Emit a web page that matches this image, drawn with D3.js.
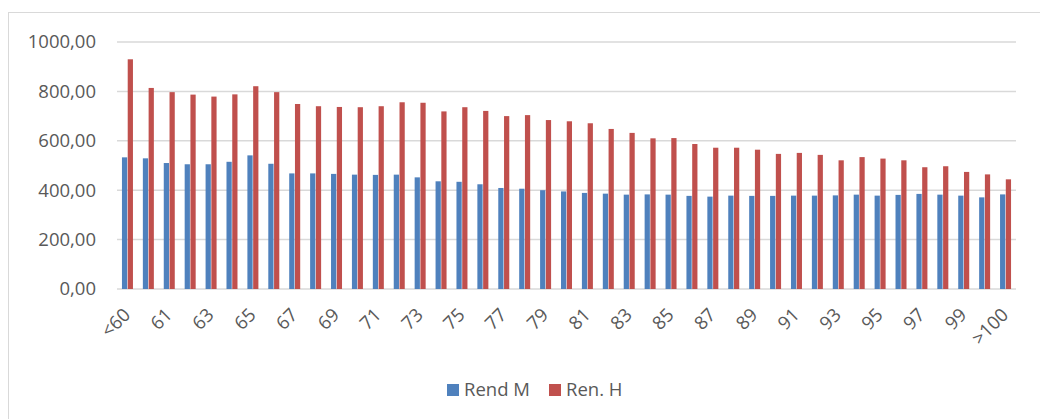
<!DOCTYPE html>
<html>
<head>
<meta charset="utf-8">
<script src="https://cdn.jsdelivr.net/npm/d3@7"></script>
<style>
  html, body { margin: 0; padding: 0; background: #fff; }
  svg { display: block; font-family: "Open Sans", "Noto Sans", sans-serif; }
</style>
</head>
<body>
<svg id="chart" width="1040" height="419"></svg>
<script>
// Age categories
const categories = ["<60", "60", "61", "62", "63", "64", "65", "66", "67", "68", "69",
  "70", "71", "72", "73", "74", "75", "76", "77", "78", "79",
  "80", "81", "82", "83", "84", "85", "86", "87", "88", "89",
  "90", "91", "92", "93", "94", "95", "96", "97", "98", "99",
  "100", ">100"];

// Series values
const rendM = [533, 529, 510, 505, 505, 515, 541, 507, 468, 468, 466,
  463, 462, 463, 452, 436, 434, 424, 409, 406, 400,
  395, 389, 386, 382, 383, 382, 377, 374, 378, 377,
  377, 378, 378, 379, 382, 378, 381, 385, 382, 378,
  371, 383];
const renH = [930, 814, 797, 787, 779, 788, 821, 797, 749, 740, 737,
  736, 740, 756, 754, 719, 736, 721, 700, 704, 684,
  679, 671, 648, 632, 610, 611, 587, 572, 572, 564,
  547, 551, 543, 521, 534, 528, 521, 493, 497, 474,
  464, 444];

const seriesNames = ["Rend M", "Ren. H"];
const seriesColors = ["#4f81bd", "#c0504d"];
const yTicks = [0, 200, 400, 600, 800, 1000];

const svg = d3.select("#chart");
const W = 1040, H = 419;
const plot = { left: 117, right: 1016, top: 42, bottom: 289 };
const textColor = "#595959";
const fontSize = 18.5;

// Outer chart frame
svg.append("rect")
  .attr("x", 8.5).attr("y", 12.5)
  .attr("width", W + 10).attr("height", H + 10)
  .attr("fill", "none").attr("stroke", "#d9d9d9").attr("stroke-width", 1);

const x = d3.scaleBand().domain(categories).range([plot.left, plot.right]).padding(0);
const xs = d3.scaleBand().domain(seriesNames).range([-5.5, 5.5]).paddingInner(0.09);
const y = d3.scaleLinear().domain([0, 1000]).range([plot.bottom, plot.top]);

const fmt = v => d3.format(".2f")(v).replace(".", ",");

// Gridlines
svg.append("g")
  .selectAll("line").data(yTicks).join("line")
  .attr("x1", plot.left).attr("x2", plot.right)
  .attr("y1", d => y(d)).attr("y2", d => y(d))
  .attr("stroke", "#d9d9d9").attr("stroke-width", 1.5);

// Y axis labels
const yAxis = d3.axisLeft(y).tickValues(yTicks).tickFormat(fmt).tickSize(0).tickPadding(0);
const gy = svg.append("g").attr("transform", "translate(96,0)").call(yAxis);
gy.select(".domain").remove();
gy.selectAll("text").attr("font-size", fontSize).attr("fill", textColor)
  .attr("font-family", "'Open Sans', sans-serif");

// Bars
const data = categories.map((c, i) => ({ cat: c, values: [rendM[i], renH[i]] }));
const groups = svg.append("g").selectAll("g").data(data).join("g")
  .attr("transform", d => `translate(${x(d.cat) + x.bandwidth() / 2},0)`);
groups.selectAll("rect")
  .data(d => d.values.map((v, k) => ({ k, v })))
  .join("rect")
  .attr("x", d => xs(seriesNames[d.k]))
  .attr("width", xs.bandwidth())
  .attr("y", d => y(d.v))
  .attr("height", d => y(0) - y(d.v))
  .attr("fill", d => seriesColors[d.k]);

// X axis labels (every other category)
const xAxis = d3.axisBottom(x).tickSize(0).tickPadding(0)
  .tickFormat((d, i) => (i % 2 === 0 ? d : ""));
const gx = svg.append("g").attr("transform", `translate(0,${plot.bottom})`).call(xAxis);
gx.select(".domain").remove();
gx.selectAll("text")
  .attr("font-size", fontSize).attr("fill", textColor)
  .attr("font-family", "'Open Sans', sans-serif")
  .attr("text-anchor", "end")
  .attr("dy", null).attr("y", 0)
  .attr("transform", "translate(4,27) rotate(-45)");

// Legend
const legend = svg.append("g").attr("transform", "translate(447,384)");
const legendX = [0, 102];
seriesNames.forEach((name, k) => {
  const g = legend.append("g").attr("transform", `translate(${legendX[k]},0)`);
  g.append("rect").attr("width", 12).attr("height", 12).attr("fill", seriesColors[k]);
  g.append("text").attr("x", 17).attr("y", 12)
    .attr("font-size", fontSize).attr("fill", textColor).text(name);
});
</script>
</body>
</html>
